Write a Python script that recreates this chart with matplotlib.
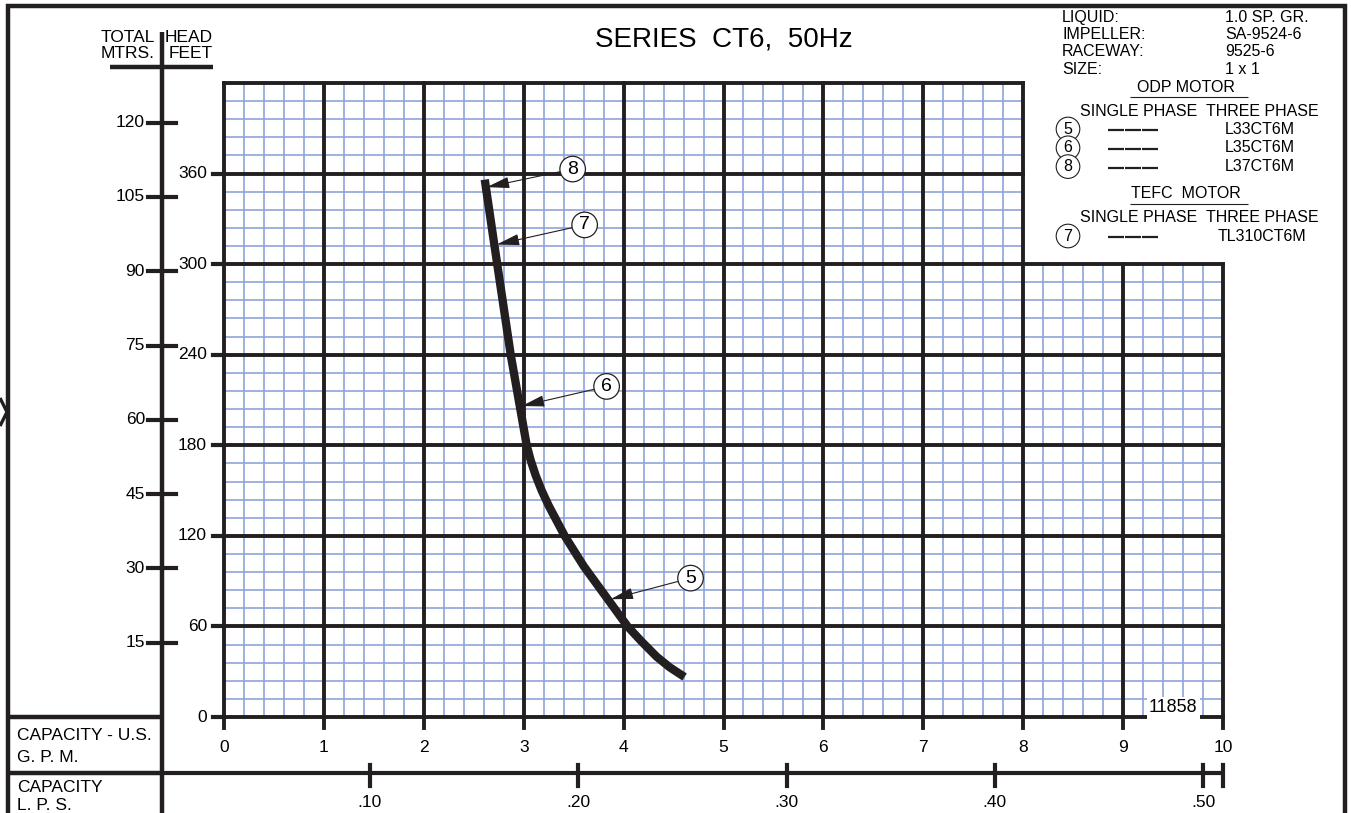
import matplotlib.pyplot as plt
import matplotlib.transforms as mtransforms
from matplotlib.lines import Line2D

plt.rcParams['font.family'] = ['Liberation Sans', 'DejaVu Sans']

# 性能曲线 (GPM, 扬程 FEET)
curve_gpm = [2.61, 2.69, 2.78, 2.87, 2.95, 3.03, 3.07, 3.12, 3.18, 3.25, 3.33, 3.41, 3.60,
             3.82, 4.04, 4.18, 4.33, 4.46, 4.61]
curve_ft = [356, 320, 280, 240, 210, 180, 170, 160, 150, 140, 130, 120, 100,
            80, 60, 50, 40, 33, 26.5]

# 曲线编号标注
mark_ids = ['8', '7', '6', '5']
mark_tip_gpm = [2.63, 2.73, 2.98, 3.87]
mark_tip_ft = [351, 313, 206, 78]
mark_lbl_gpm = [3.49, 3.61, 3.83, 4.67]
mark_lbl_ft = [363, 326, 219, 92]

# 坐标轴刻度
gpm_ticks = list(range(0, 11))
feet_ticks = [0, 60, 120, 180, 240, 300, 360]
mtr_ticks = [15, 30, 45, 60, 75, 90, 105, 120]
lps_ticks = [0.10, 0.20, 0.30, 0.40, 0.50]
lps_labels = ['.10', '.20', '.30', '.40', '.50']

# 右上角说明
info_keys = ['LIQUID:', 'IMPELLER:', 'RACEWAY:', 'SIZE:']
info_vals = ['1.0 SP. GR.', 'SA-9524-6', '9525-6', '1 x 1']
odp_ids = ['5', '6', '8']
odp_models = ['L33CT6M', 'L35CT6M', 'L37CT6M']
tefc_ids = ['7']
tefc_models = ['TL310CT6M']

FT_PER_M = 3.28084
X_MAX, Y_MAX = 10, 420
X_CUT, Y_CUT = 8, 300   # 右上角空白区域


def lps_to_gpm(v):
    # 图中 L.P.S. 标尺的位置 (按原图刻度读取)
    return 1.461 + (v - 0.10) * 20.85


W, H = 1351, 813
def fx(p):
    return p / W
def fy(p):
    return 1 - p / H


fig = plt.figure(figsize=(W / 100, H / 100), dpi=100)
ax = fig.add_axes([fx(224), fy(717), (1223 - 224) / W, (717 - 83) / H])
ax.set_xlim(0, X_MAX)
ax.set_ylim(0, Y_MAX)
ax.axis('off')

blue = '#8fa3dc'
black = '#231f20'
TK = 12.5  # 刻度字号

# 细网格
for i in range(X_MAX * 5 + 1):
    x = i / 5
    if i % 5 == 0:
        continue
    top = Y_MAX if x < X_CUT else Y_CUT
    ax.plot([x, x], [0, top], color=blue, lw=1.2, zorder=1, solid_capstyle='butt')
for j in range(Y_MAX // 12 + 1):
    y = j * 12
    if y % 60 == 0:
        continue
    right = X_MAX if y < Y_CUT else X_CUT
    ax.plot([0, right], [y, y], color=blue, lw=1.2, zorder=1, solid_capstyle='butt')

# 粗网格
for x in range(X_MAX + 1):
    top = Y_MAX if x <= X_CUT else Y_CUT
    ax.plot([x, x], [0, top], color=black, lw=2.8, zorder=2, solid_capstyle='projecting', clip_on=False)
for y in range(0, Y_MAX + 1, 60):
    right = X_MAX if y <= Y_CUT else X_CUT
    ax.plot([0, right], [y, y], color=black, lw=2.8, zorder=2, solid_capstyle='projecting', clip_on=False)

# 曲线
ax.plot(curve_gpm, curve_ft, color=black, lw=6, zorder=3, solid_capstyle='butt', solid_joinstyle='round')

for k, tx, ty, lx, ly in zip(mark_ids, mark_tip_gpm, mark_tip_ft, mark_lbl_gpm, mark_lbl_ft):
    ax.annotate(k, xy=(tx, ty), xytext=(lx, ly), fontsize=14, ha='center', va='center', zorder=5,
                bbox=dict(boxstyle='circle,pad=0.22', fc='white', ec=black, lw=0.9),
                arrowprops=dict(arrowstyle='-|>,head_length=1.0,head_width=0.25', color=black,
                                lw=0.8, shrinkA=0, shrinkB=0))

ax.text(9.5, 6, '11858', fontsize=13, ha='center', va='center', zorder=4,
        bbox=dict(fc='white', ec='none', pad=1.5))

# X 轴刻度 (GPM)
xtr = ax.get_xaxis_transform()
for x in gpm_ticks:
    ax.plot([x, x], [0, -11 / 634], color=black, lw=2.8, transform=xtr, clip_on=False)
    ax.text(x, -30 / 634, str(x), transform=xtr, ha='center', va='center', fontsize=TK)

# L.P.S. 标尺
ax.plot([-62 / 99.9, X_MAX], [-56 / 634, -56 / 634], color=black, lw=3, transform=xtr, clip_on=False,
        solid_capstyle='butt')
for v, lab in zip(lps_ticks, lps_labels):
    g = lps_to_gpm(v)
    ax.plot([g, g], [-48 / 634, -69 / 634], color=black, lw=3, transform=xtr, clip_on=False)
    ax.text(g, -85 / 634, lab, transform=xtr, ha='center', va='center', fontsize=TK)
ax.plot([X_MAX, X_MAX], [-48 / 634, -69 / 634], color=black, lw=3, transform=xtr, clip_on=False)

# 左侧扬程标尺
ytr = mtransforms.blended_transform_factory(fig.transFigure, ax.transData)
for m in mtr_ticks:
    ax.plot([fx(148), fx(176)], [m * FT_PER_M] * 2, color=black, lw=3, transform=ytr, clip_on=False)
    ax.text(fx(145), m * FT_PER_M, str(m), transform=ytr, ha='right', va='center', fontsize=TK)
for f in feet_ticks:
    ax.plot([fx(213), fx(224)], [f, f], color=black, lw=3, transform=ytr, clip_on=False)
    ax.text(fx(207), f, str(f), transform=ytr, ha='right', va='center', fontsize=TK)

# 外框与分隔线
def fline(xs, ys, lw=3.2):
    fig.add_artist(Line2D([fx(p) for p in xs], [fy(p) for p in ys], color=black, lw=lw,
                          solid_capstyle='butt', solid_joinstyle='miter'))

fline([8, 8, 1345, 1345], [813, 6, 6, 813])
fline([162, 162], [32, 813])
fline([110, 213], [67, 67])
fline([8, 162], [717, 717])
fline([8, 162], [773, 773])
fline([0, 7, 0], [398, 412, 426], lw=2.4)

fig.text(fx(155), fy(38), 'TOTAL', ha='right', va='center', fontsize=12.5)
fig.text(fx(155), fy(53), 'MTRS.', ha='right', va='center', fontsize=12.5)
fig.text(fx(213), fy(38), 'HEAD', ha='right', va='center', fontsize=12.5)
fig.text(fx(213), fy(53), 'FEET', ha='right', va='center', fontsize=12.5)

fig.text(fx(17), fy(736), 'CAPACITY - U.S.', ha='left', va='center', fontsize=12.5)
fig.text(fx(17), fy(757), 'G. P. M.', ha='left', va='center', fontsize=12.5)
fig.text(fx(17), fy(787), 'CAPACITY', ha='left', va='center', fontsize=12.5)
fig.text(fx(17), fy(805), 'L. P. S.', ha='left', va='center', fontsize=12.5)

fig.text(fx(724), fy(40), 'SERIES  CT6,  50Hz', ha='center', va='center', fontsize=20)

# 右上角说明文字
for i, (k, v) in enumerate(zip(info_keys, info_vals)):
    y = 17.5 + i * 17.2
    fig.text(fx(1062), fy(y), k, ha='left', va='center', fontsize=11.5)
    fig.text(fx(1225), fy(y), v, ha='left', va='center', fontsize=11.5)


def motor_block(title, y0, ids, models, model_x):
    fig.text(fx(1186), fy(y0), title, ha='center', va='center', fontsize=11.5)
    fline([1130, 1248], [y0 + 10, y0 + 10], lw=0.8)
    fig.text(fx(1080), fy(y0 + 24), 'SINGLE PHASE  THREE PHASE', ha='left', va='center', fontsize=11.5)
    for n, (i, mdl) in enumerate(zip(ids, models)):
        y = y0 + 42 + n * 18.8
        fig.text(fx(1068), fy(y), i, ha='center', va='center', fontsize=11.5,
                 bbox=dict(boxstyle='circle,pad=0.27', fc='white', ec=black, lw=0.8))
        for d in range(3):
            fline([1108 + d * 17, 1124 + d * 17], [y + 1, y + 1], lw=1.6)
        fig.text(fx(model_x), fy(y), mdl, ha='left', va='center', fontsize=11.5)


motor_block('ODP MOTOR', 87, odp_ids, odp_models, 1225)
motor_block('TEFC  MOTOR', 194, tefc_ids, tefc_models, 1218)

fig.savefig('out.png', dpi=100, facecolor='white')
